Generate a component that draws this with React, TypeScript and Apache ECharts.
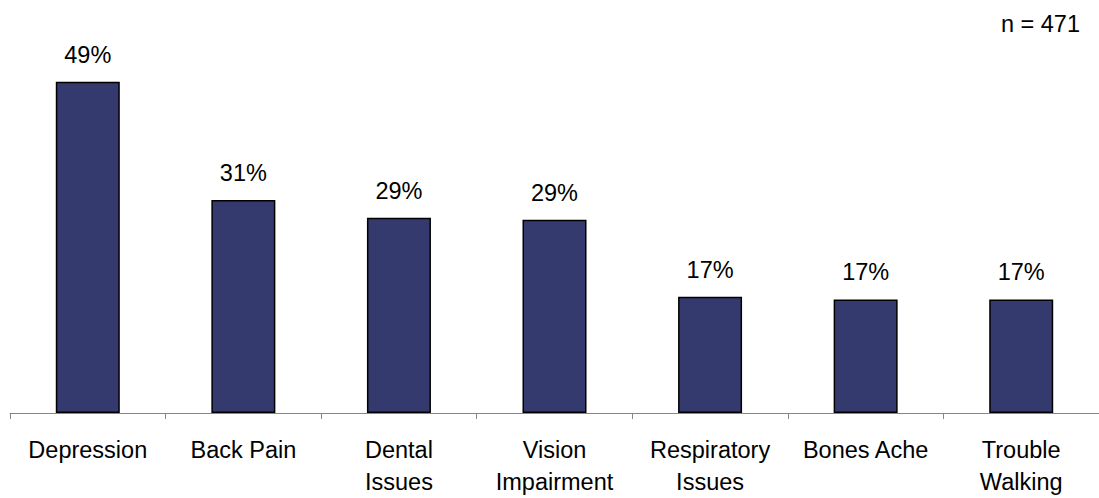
import React, { useEffect, useRef } from "react";
import * as echarts from "echarts";

const categories = [
  "Depression",
  "Back Pain",
  "Dental\nIssues",
  "Vision\nImpairment",
  "Respiratory\nIssues",
  "Bones Ache",
  "Trouble\nWalking",
];
const values = [49, 31.5, 28.9, 28.6, 17.2, 16.8, 16.8];
const valueLabels = ["49%", "31%", "29%", "29%", "17%", "17%", "17%"];
const sampleNote = "n = 471";

export default function App() {
  const ref = useRef<HTMLDivElement>(null);
  useEffect(() => {
    document.body.style.margin = "0";
    const chart = echarts.init(ref.current!, null, { renderer: "svg" });
    const font = "Liberation Sans, Arial, sans-serif";
    chart.setOption({
      animation: false,
      backgroundColor: "#ffffff",
      grid: { left: 10, width: 1094, top: 48, height: 365, containLabel: false },
      xAxis: {
        type: "category",
        data: categories,
        axisLine: { lineStyle: { color: "#868686", width: 1 } },
        axisTick: { show: true, length: 6, lineStyle: { color: "#868686" } },
        axisLabel: {
          interval: 0,
          margin: 21,
          color: "#000",
          fontFamily: font,
          fontSize: 23.5,
          lineHeight: 32,
        },
      },
      yAxis: {
        type: "value",
        min: 0,
        max: 54,
        show: false,
        splitLine: { show: false },
      },
      series: [
        {
          type: "bar",
          data: values,
          barWidth: 64,
          itemStyle: { color: "#343A6E", borderColor: "#000", borderWidth: 1.5 },
          label: {
            show: true,
            position: "top",
            distance: 15,
            color: "#000",
            fontFamily: font,
            fontSize: 23.5,
            lineHeight: 24,
            formatter: (p: any) => valueLabels[p.dataIndex],
          },
        },
      ],
      graphic: [
        {
          type: "text",
          x: 1080,
          y: 23.5,
          style: {
            text: sampleNote,
            fill: "#000",
            font: `23.5px ${font}`,
            textAlign: "right",
            textVerticalAlign: "middle",
          },
        },
      ],
    });
    return () => chart.dispose();
  }, []);
  return <div ref={ref} style={{ width: 1099, height: 498 }} />;
}
